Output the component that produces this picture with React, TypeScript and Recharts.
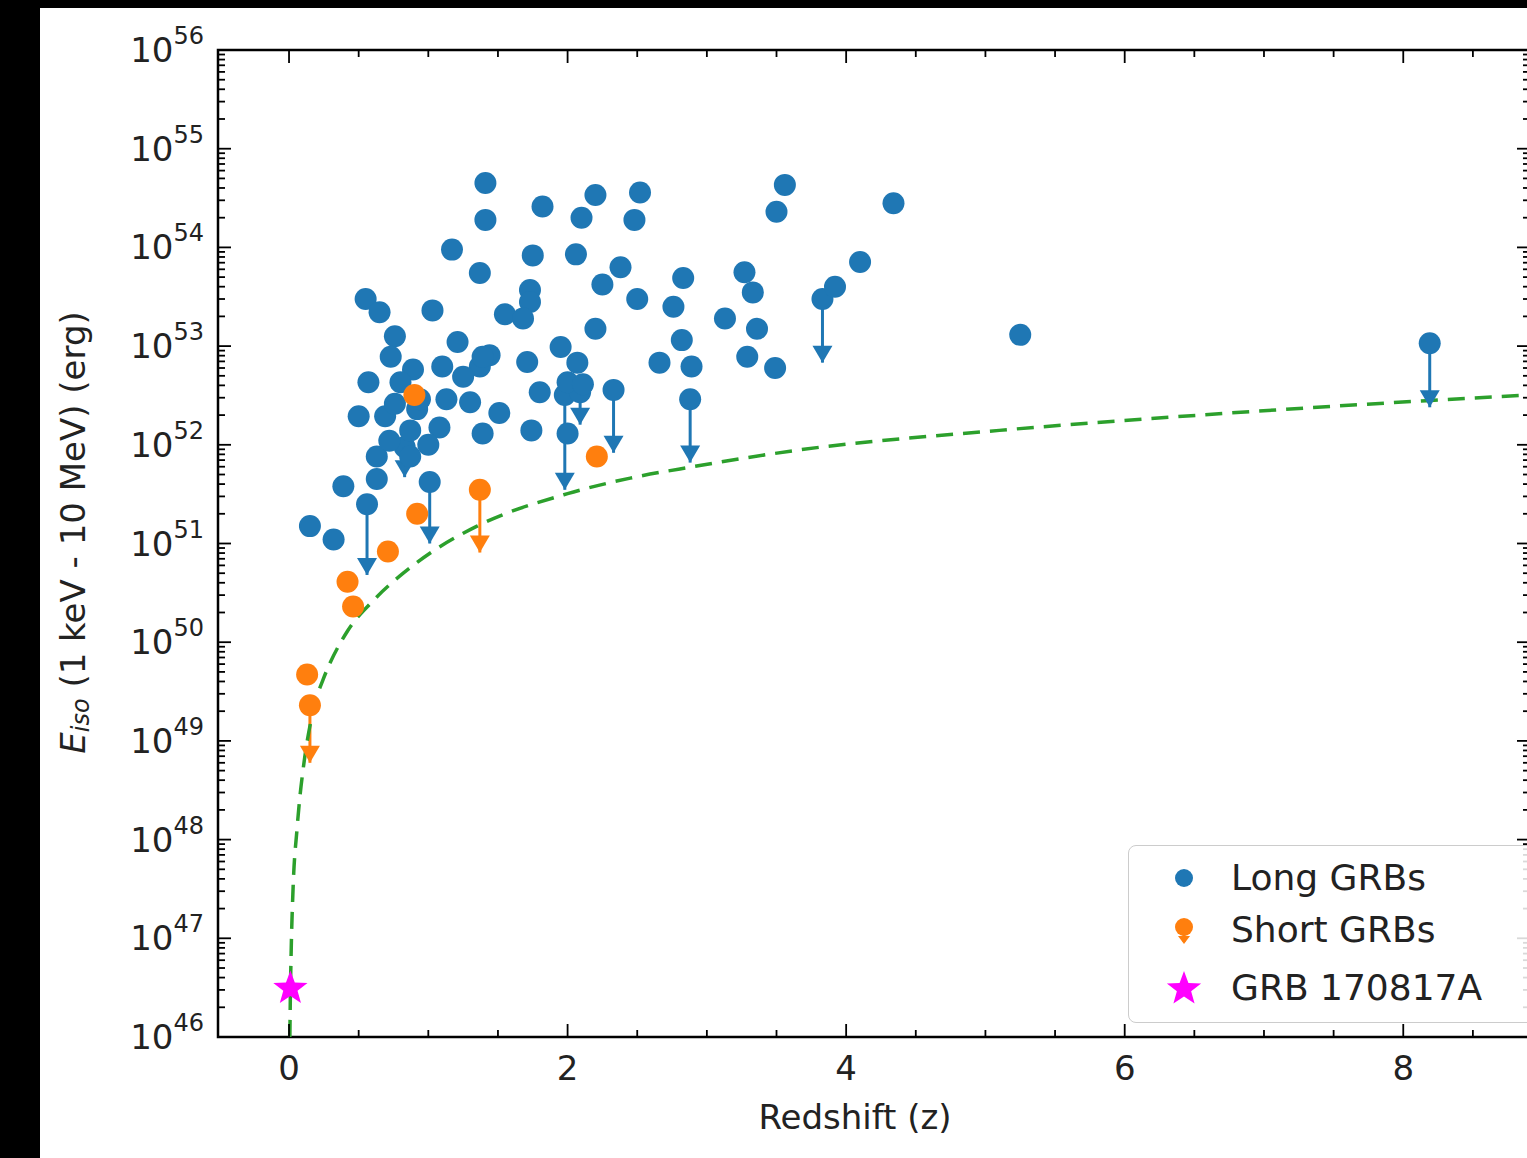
import React from 'react'
import { ComposedChart, Scatter, Line, XAxis, YAxis, ErrorBar, ReferenceArea, Label } from 'recharts'

// Long GRBs with a measured energy
const longZ = [
  1.41, 1.41, 1.82, 2.2, 2.1, 2.52, 2.48, 1.17, 1.37, 1.75, 2.06, 2.38, 2.25, 2.5, 2.83, 2.76,
  0.55, 0.65, 1.03, 1.73, 1.73, 1.55, 1.68, 2.2, 2.82, 2.66, 2.89, 0.76, 1.21, 1.44, 1.37, 1.71,
  1.95, 2.07, 0.73, 0.89, 1.1, 0.57, 1.25, 1.8, 2.0, 2.11, 0.5, 0.69, 1.13, 1.3, 1.51, 1.39,
  1.74, 0.63, 0.87, 0.39, 0.63, 0.15, 0.32, 3.27, 3.33, 4.1, 3.92, 3.13, 3.36, 3.29, 3.49, 3.56,
  3.5, 4.34, 5.25, 1.08, 0.87, 2.0, 0.8, 1.39, 0.92, 0.94, 0.76, 1.0, 0.72,
]
const longE = [
  4.5e54, 1.9e54, 2.6e54, 3.4e54, 2.0e54, 3.6e54, 1.9e54, 9.5e53, 5.5e53, 8.3e53, 8.5e53, 6.3e53, 4.2e53, 3.0e53, 4.9e53, 2.5e53,
  3.0e53, 2.2e53, 2.3e53, 3.7e53, 2.8e53, 2.1e53, 1.9e53, 1.5e53, 1.15e53, 6.8e52, 6.2e52, 1.26e53, 1.1e53, 8.1e52, 6.2e52, 6.9e52,
  9.8e52, 6.8e52, 7.8e52, 5.8e52, 6.2e52, 4.3e52, 4.9e52, 3.4e52, 4.3e52, 4.1e52, 1.95e52, 1.95e52, 2.9e52, 2.7e52, 2.1e52, 1.3e52,
  1.4e52, 7.6e51, 7.6e51, 3.8e51, 4.5e51, 1.5e51, 1.1e51, 5.6e53, 3.5e53, 7.1e53, 4.0e53, 1.9e53, 1.5e53, 7.8e52, 6.0e52, 4.3e54,
  2.3e54, 2.8e54, 1.3e53, 1.5e52, 1.4e52, 1.3e52, 4.3e52, 7.8e52, 2.3e52, 2.9e52, 2.6e52, 1.0e52, 1.1e52,
]

// Long GRBs given as upper limits (marker value and arrow tip)
const longUlZ = [0.56, 1.01, 0.83, 1.98, 2.09, 2.33, 2.88, 3.83, 8.19]
const longUlE = [2.5e51, 4.2e51, 9.5e51, 3.2e52, 3.4e52, 3.6e52, 2.9e52, 3.0e53, 1.07e53]
const longUlTip = [4.8e50, 1.0e51, 4.7e51, 3.5e51, 1.6e52, 8.3e51, 6.6e51, 6.8e52, 2.4e52]

// Short GRBs
const shortZ = [0.9, 2.21, 0.92, 0.71, 0.42, 0.46, 0.13]
const shortE = [3.2e52, 7.6e51, 2.0e51, 8.3e50, 4.1e50, 2.3e50, 4.7e49]
const shortUlZ = [1.37, 0.15]
const shortUlE = [3.5e51, 2.3e49]
const shortUlTip = [8.1e50, 6.0e48]

// GRB 170817A
const starZ = [0.0098]
const starE = [3.1e46]

// detection threshold curve
const curveZ = [0.006, 0.0098, 0.015, 0.029, 0.057, 0.079, 0.1, 0.2, 0.245, 0.42, 0.6, 0.82, 1.03, 1.35, 2.0, 2.45, 2.9, 3.67, 5.1, 6.54, 8.17, 8.91]
const curveE = [1.0e46, 2.8e46, 7e46, 3.2e47, 1.26e48, 2.8e48, 5.0e48, 2.8e49, 4.2e49, 1.3e50, 2.6e50, 5.0e50, 8.3e50, 1.5e51, 3.2e51, 4.6e51, 6.0e51, 8.9e51, 1.4e52, 2.0e52, 2.8e52, 3.2e52]

const xTicks = [0, 0.5, 1, 1.5, 2, 2.5, 3, 3.5, 4, 4.5, 5, 5.5, 6, 6.5, 7, 7.5, 8, 8.5]
const yDecades = [46, 47, 48, 49, 50, 51, 52, 53, 54, 55, 56]

const BLUE = '#1f77b4'
const ORANGE = '#ff7f0e'
const GREEN = '#2ca02c'
const STAR = '#ff00ff'
const FONT = '"DejaVu Sans", sans-serif'

const PLOT_W = 1312
const PLOT_H = 987

const yTicks: number[] = []
yDecades.forEach((d) => {
  if (d === 56) {
    yTicks.push(1e56)
    return
  }
  for (let m = 1; m <= 9; m++) yTicks.push(m * Math.pow(10, d))
})

const longData = longZ.map((z, i) => ({ z, e: longE[i] }))
const longUlData = longUlZ.map((z, i) => ({ z, e: longUlE[i], err: [longUlE[i] - longUlTip[i], 0] }))
const longTipData = longUlZ.map((z, i) => ({ z, e: longUlTip[i] }))
const shortData = shortZ.map((z, i) => ({ z, e: shortE[i] }))
const shortUlData = shortUlZ.map((z, i) => ({ z, e: shortUlE[i], err: [shortUlE[i] - shortUlTip[i], 0] }))
const shortTipData = shortUlZ.map((z, i) => ({ z, e: shortUlTip[i] }))
const starData = starZ.map((z, i) => ({ z, e: starE[i] }))
const curveData = curveZ.map((z, i) => ({ z, e: curveE[i] }))

const dot = (color: string) => (p: any) => <circle cx={p.cx} cy={p.cy} r={11} fill={color} />

const arrowTip = (color: string) => (p: any) => (
  <polygon points={`${p.cx - 10},${p.cy - 17} ${p.cx + 10},${p.cy - 17} ${p.cx},${p.cy}`} fill={color} />
)

function starPoints(cx: number, cy: number, ro: number, ri: number) {
  const pts: string[] = []
  for (let k = 0; k < 10; k++) {
    const r = k % 2 === 0 ? ro : ri
    const a = -Math.PI / 2 + (k * Math.PI) / 5
    pts.push(`${cx + r * Math.cos(a)},${cy + r * Math.sin(a)}`)
  }
  return pts.join(' ')
}

const starShape = (p: any) => <polygon points={starPoints(p.cx, p.cy, 18, 7.5)} fill={STAR} />

function XTick(props: any) {
  const { x, y, payload } = props
  const v = payload.value
  const major = Math.abs(v % 2) < 1e-9
  const len = major ? 13 : 7
  return (
    <g>
      <line x1={x} y1={y} x2={x} y2={y - len} stroke="#000" strokeWidth={1.8} />
      <line x1={x} y1={y - PLOT_H} x2={x} y2={y - PLOT_H + len} stroke="#000" strokeWidth={1.8} />
      {major && (
        <text x={x} y={y + 31} textAnchor="middle" dominantBaseline="central" fontSize={34} fontFamily={FONT} fill="#222">
          {v}
        </text>
      )}
    </g>
  )
}

function YTick(props: any) {
  const { x, y, payload } = props
  const lg = Math.log10(payload.value)
  const major = Math.abs(lg - Math.round(lg)) < 1e-6
  const len = major ? 13 : 7
  return (
    <g>
      <line x1={x} y1={y} x2={x + len} y2={y} stroke="#000" strokeWidth={1.8} />
      <line x1={x + PLOT_W} y1={y} x2={x + PLOT_W - len} y2={y} stroke="#000" strokeWidth={1.8} />
      {major && (
        <text x={x - 14} y={y} textAnchor="end" dominantBaseline="central" fontSize={34} fontFamily={FONT} fill="#222">
          10<tspan dy={-14} fontSize={24}>{Math.round(lg)}</tspan>
        </text>
      )}
    </g>
  )
}

function YLabel(props: any) {
  const vb = props.viewBox
  const cx = vb.x + 33
  const cy = vb.y + vb.height / 2 - 11
  return (
    <text transform={`translate(${cx},${cy}) rotate(-90)`} textAnchor="middle" dominantBaseline="central" fontSize={34} fontFamily={FONT} fill="#222">
      <tspan fontStyle="italic">E</tspan>
      <tspan fontStyle="italic" fontSize={24} dy={8}>iso</tspan>
      <tspan dy={-8}> (1 keV - 10 MeV) (erg)</tspan>
    </text>
  )
}

function XLabel(props: any) {
  const vb = props.viewBox
  return (
    <text x={vb.x + vb.width / 2 - 19} y={vb.y + 80} textAnchor="middle" dominantBaseline="central" fontSize={34} fontFamily={FONT} fill="#222">
      Redshift (z)
    </text>
  )
}

const legendRows = [
  { label: 'Long GRBs', kind: 'long' },
  { label: 'Short GRBs', kind: 'short' },
  { label: 'GRB 170817A', kind: 'star' },
]

function LegendMarker({ kind }: { kind: string }) {
  return (
    <svg width={44} height={44}>
      {kind === 'long' && <circle cx={22} cy={22} r={9} fill={BLUE} />}
      {kind === 'short' && (
        <g>
          <line x1={22} y1={20} x2={22} y2={34} stroke={ORANGE} strokeWidth={3} />
          <polygon points="16,28 28,28 22,36" fill={ORANGE} />
          <circle cx={22} cy={19} r={9} fill={ORANGE} />
        </g>
      )}
      {kind === 'star' && <polygon points={starPoints(22, 23, 18, 7.5)} fill={STAR} />}
    </svg>
  )
}

function GrbLegend() {
  const rowCenters = [32, 84, 142]
  return (
    <div
      style={{
        position: 'absolute',
        left: 1088,
        top: 837,
        width: 420,
        height: 176,
        border: '1.5px solid #cccccc',
        borderRadius: 8,
        background: 'rgba(255,255,255,0.85)',
        fontFamily: FONT,
        fontSize: 36,
        color: '#222',
      }}
    >
      {legendRows.map((r, i) => (
        <div key={r.label} style={{ position: 'absolute', left: 33, top: rowCenters[i] - 22, height: 44, display: 'flex', alignItems: 'center' }}>
          <LegendMarker kind={r.kind} />
          <span style={{ marginLeft: 25, whiteSpace: 'nowrap', lineHeight: '44px' }}>{r.label}</span>
        </div>
      ))}
    </div>
  )
}

export default function App() {
  return (
    <div style={{ position: 'fixed', left: 0, top: 0, width: 1527, height: 1158, background: '#000', overflow: 'hidden' }}>
      <div style={{ position: 'absolute', left: 40, top: 8, width: 1487, height: 1150, background: '#fff', overflow: 'hidden' }}>
        <ComposedChart width={1490} height={1150} margin={{ top: 42, right: 0, bottom: 0, left: 0 }}>
          <XAxis
            type="number"
            dataKey="z"
            domain={[-0.51, 8.91]}
            allowDataOverflow
            ticks={xTicks}
            interval={0}
            tickSize={0}
            tickMargin={0}
            tickLine={false}
            axisLine={false}
            height={121}
            tick={(p: any) => <XTick {...p} />}
          >
            <Label content={XLabel} />
          </XAxis>
          <YAxis
            type="number"
            dataKey="e"
            scale="log"
            domain={[1e46, 1e56]}
            allowDataOverflow
            ticks={yTicks}
            interval={0}
            tickSize={0}
            tickMargin={0}
            tickLine={false}
            axisLine={false}
            width={178}
            tick={(p: any) => <YTick {...p} />}
          >
            <Label content={YLabel} />
          </YAxis>
          <Scatter data={longUlData} dataKey="e" fill={BLUE} shape={dot(BLUE)} isAnimationActive={false}>
            <ErrorBar dataKey="err" direction="y" width={0} strokeWidth={3} stroke={BLUE} />
          </Scatter>
          <Scatter data={longTipData} dataKey="e" fill={BLUE} shape={arrowTip(BLUE)} isAnimationActive={false} />
          <Scatter data={longData} dataKey="e" fill={BLUE} shape={dot(BLUE)} isAnimationActive={false} />
          <Scatter data={shortUlData} dataKey="e" fill={ORANGE} shape={dot(ORANGE)} isAnimationActive={false}>
            <ErrorBar dataKey="err" direction="y" width={0} strokeWidth={3} stroke={ORANGE} />
          </Scatter>
          <Scatter data={shortTipData} dataKey="e" fill={ORANGE} shape={arrowTip(ORANGE)} isAnimationActive={false} />
          <Scatter data={shortData} dataKey="e" fill={ORANGE} shape={dot(ORANGE)} isAnimationActive={false} />
          <Line
            data={curveData}
            dataKey="e"
            type="monotone"
            stroke={GREEN}
            strokeWidth={3.5}
            strokeDasharray="17 10"
            dot={false}
            activeDot={false}
            isAnimationActive={false}
          />
          <Scatter data={starData} dataKey="e" fill={STAR} shape={starShape} isAnimationActive={false} />
          <ReferenceArea x1={-0.51} x2={8.91} y1={1e46} y2={1e56} fill="none" stroke="#000" strokeWidth={2.5} ifOverflow="visible" />
        </ComposedChart>
        <GrbLegend />
      </div>
    </div>
  )
}
